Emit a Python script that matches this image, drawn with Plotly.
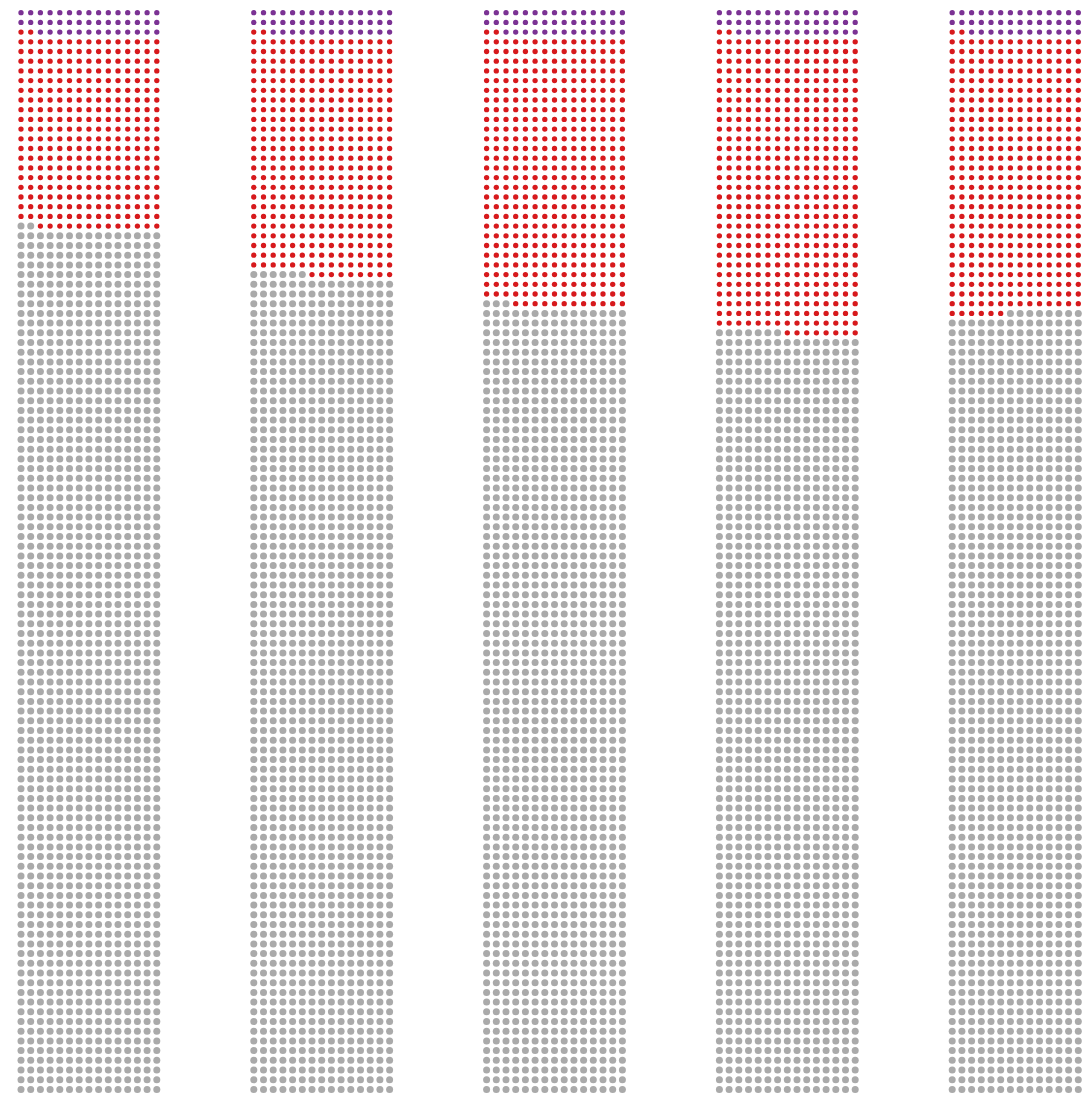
import plotly.graph_objects as go

# ---- data (dot counts per column) ----
columns = ["1", "2", "3", "4", "5"]
series_names = ["Purple group", "Red group", "Grey group"]
purple_counts = [43, 43, 43, 43, 43]
red_counts = [300, 371, 419, 460, 428]
grey_counts = [1337, 1266, 1218, 1177, 1209]

# ---- layout options ----
GRID_W = 15          # dots per row
COL_STEP = 24        # column spacing in dot units
UNIT_PX = 9.70       # pixel size of one dot unit
X0_PX, Y0_PX = 21.0, 12.7
W, H = 1083, 1093
partial_left = [False, False, False, False, True]
colors = ["#7b3294", "#d7191c", "#aaaaaa"]
sizes = [5.3, 5.3, 7]

xs = {0: [], 1: [], 2: []}
ys = {0: [], 1: [], 2: []}

for ci in range(len(columns)):
    counts = [purple_counts[ci], red_counts[ci], grey_counts[ci]]
    seq = []
    for k, n in enumerate(counts):
        seq += [k] * n
    nrows = (len(seq) + GRID_W - 1) // GRID_W
    for r in range(nrows):
        row = seq[r * GRID_W:(r + 1) * GRID_W]
        # fill right to left
        cells = list(reversed(row))
        if partial_left[ci] and 1 in row and 2 in row:
            cells = list(row)
        for j, k in enumerate(cells):
            col_pos = GRID_W - len(cells) + j if len(cells) < GRID_W else j
            xs[k].append(COL_STEP * ci + col_pos)
            ys[k].append(-r)

fig = go.Figure()
for k in range(3):
    fig.add_trace(go.Scatter(
        x=xs[k], y=ys[k], mode="markers", name=series_names[k],
        marker=dict(color=colors[k], size=sizes[k], line=dict(width=0)),
        hoverinfo="skip", showlegend=False))

fig.update_layout(
    width=W, height=H, margin=dict(l=0, r=0, t=0, b=0),
    paper_bgcolor="white", plot_bgcolor="white",
    xaxis=dict(range=[-X0_PX / UNIT_PX, (W - X0_PX) / UNIT_PX], visible=False, fixedrange=True),
    yaxis=dict(range=[-(H - Y0_PX) / UNIT_PX, Y0_PX / UNIT_PX], visible=False, fixedrange=True),
)

fig.write_html("out.html", post_script="document.body.style.margin='0';document.body.style.overflow='hidden';",
               config={"displayModeBar": False})
